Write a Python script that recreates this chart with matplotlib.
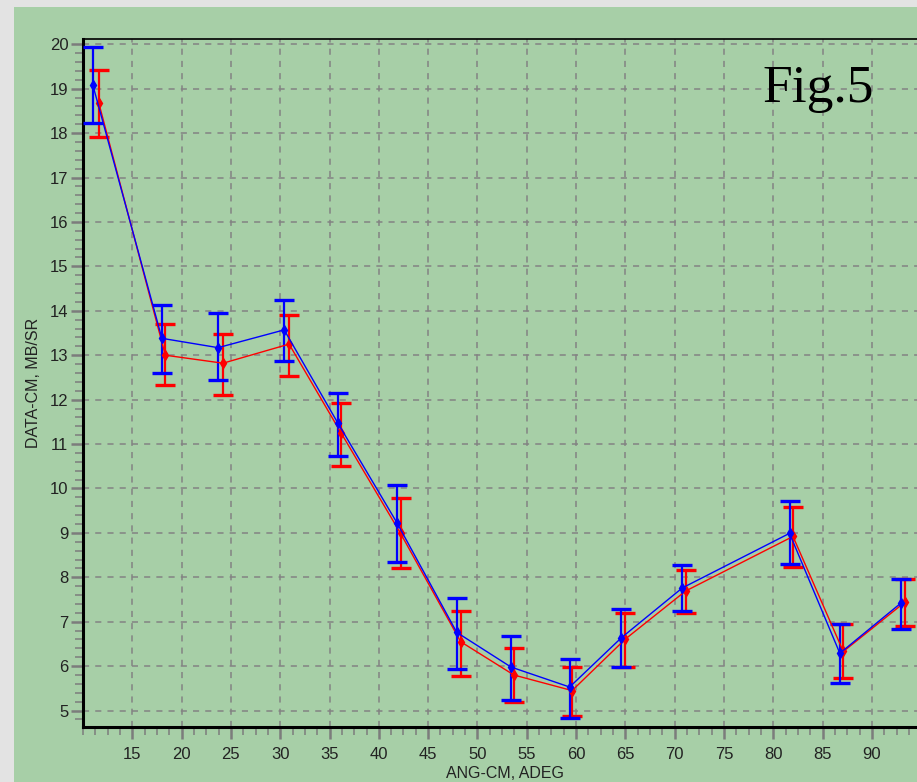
import matplotlib
matplotlib.use("Agg")
import matplotlib.pyplot as plt
import numpy as np
from matplotlib.patches import Rectangle
from matplotlib.ticker import MultipleLocator, FixedLocator

# data
blue_x = [11.0, 18.0, 23.7, 30.4, 35.85, 41.83, 47.9, 53.4, 59.35, 64.6, 70.77, 81.65, 86.75, 93.0]
blue_y = [19.08, 13.38, 13.17, 13.57, 11.47, 9.23, 6.76, 5.98, 5.53, 6.64, 7.76, 8.99, 6.29, 7.43]
blue_top = [19.94, 14.14, 13.94, 14.24, 12.14, 10.08, 7.53, 6.67, 6.17, 7.29, 8.28, 9.71, 6.95, 7.96]
blue_bot = [18.23, 12.60, 12.44, 12.86, 10.72, 8.34, 5.93, 5.24, 4.84, 5.97, 7.25, 8.30, 5.62, 6.84]

red_x = [11.6, 18.35, 24.2, 30.9, 36.2, 42.2, 48.3, 53.7, 59.6, 65.0, 71.1, 82.0, 87.1, 93.4]
red_y = [18.68, 13.00, 12.82, 13.25, 11.24, 8.99, 6.55, 5.80, 5.45, 6.61, 7.69, 8.92, 6.33, 7.45]
red_top = [19.41, 13.70, 13.48, 13.90, 11.93, 9.78, 7.25, 6.41, 5.97, 7.19, 8.17, 9.59, 6.95, 7.96]
red_bot = [17.92, 12.32, 12.11, 12.53, 10.51, 8.20, 5.78, 5.20, 4.88, 5.97, 7.19, 8.24, 5.73, 6.91]

GREEN = "#a7cfa7"
TICK_GRAY = "#7c7c7c"

plt.rcParams['font.family'] = ['Liberation Sans', 'DejaVu Sans']

fig = plt.figure(figsize=(9.17, 7.82), dpi=100)
fig.patch.set_facecolor("#e3e3e3")
# green panel behind the chart
panel = Rectangle((14 / 917, 0), 1, 1 - 7 / 782, transform=fig.transFigure,
                  facecolor=GREEN, edgecolor='none', zorder=-10)
fig.add_artist(panel)

W, H = 917, 782
left_px, top_px, bottom_px = 83, 38.5, 727
ax = fig.add_axes([left_px / W, (H - bottom_px) / H, (W - left_px + 10) / W, (bottom_px - top_px) / H])
ax.set_facecolor(GREEN)
ax.set_zorder(1)

px_per_unit = 9.861
ax.set_xlim(10, 10 + (W - left_px + 10) / px_per_unit)
ax.set_ylim(4.63, 20.13)


def draw_series(x, y, top, bot, color):
    y = np.array(y)
    yerr = [y - np.array(bot), np.array(top) - y]
    ax.errorbar(x, y, yerr=yerr, color=color, lw=1.0, marker='d', ms=5,
                elinewidth=1.6, capsize=7, capthick=2.4, zorder=3)


draw_series(red_x, red_y, red_top, red_bot, "#ff0000")
draw_series(blue_x, blue_y, blue_top, blue_bot, "#0000ff")

# ticks
ax.xaxis.set_major_locator(FixedLocator(np.arange(15, 95, 5)))
ax.xaxis.set_minor_locator(MultipleLocator(1.25))
ax.yaxis.set_major_locator(MultipleLocator(1))
ax.yaxis.set_minor_locator(MultipleLocator(0.2))
ax.tick_params(which='major', length=8.5, width=1.8, color=TICK_GRAY, labelsize=12,
               labelcolor="#222222", pad=2)
ax.tick_params(which='minor', length=6, width=1.1, color=TICK_GRAY)
ax.tick_params(axis='x', pad=6)

ax.grid(True, which='major', color="#838383", linestyle=(0, (4, 4)), linewidth=1.1)
ax.set_axisbelow(True)

for side in ['left', 'bottom']:
    ax.spines[side].set_linewidth(2.2)
ax.spines['top'].set_linewidth(1.2)
ax.spines['right'].set_visible(False)

ax.set_xlabel("ANG-CM, ADEG", fontsize=11.5, color="#222222", labelpad=3)
fig.text(33 / W, 1 - 383 / H, "DATA-CM, MB/SR", rotation=90, fontsize=11.5,
         color="#222222", ha='center', va='center')

fig.text(762 / W, 1 - 102 / H, "Fig.5", fontsize=38.5, family='Liberation Serif',
         color='black', ha='left', va='baseline', zorder=5)

fig.savefig("out.png", dpi=100, facecolor=fig.get_facecolor())
